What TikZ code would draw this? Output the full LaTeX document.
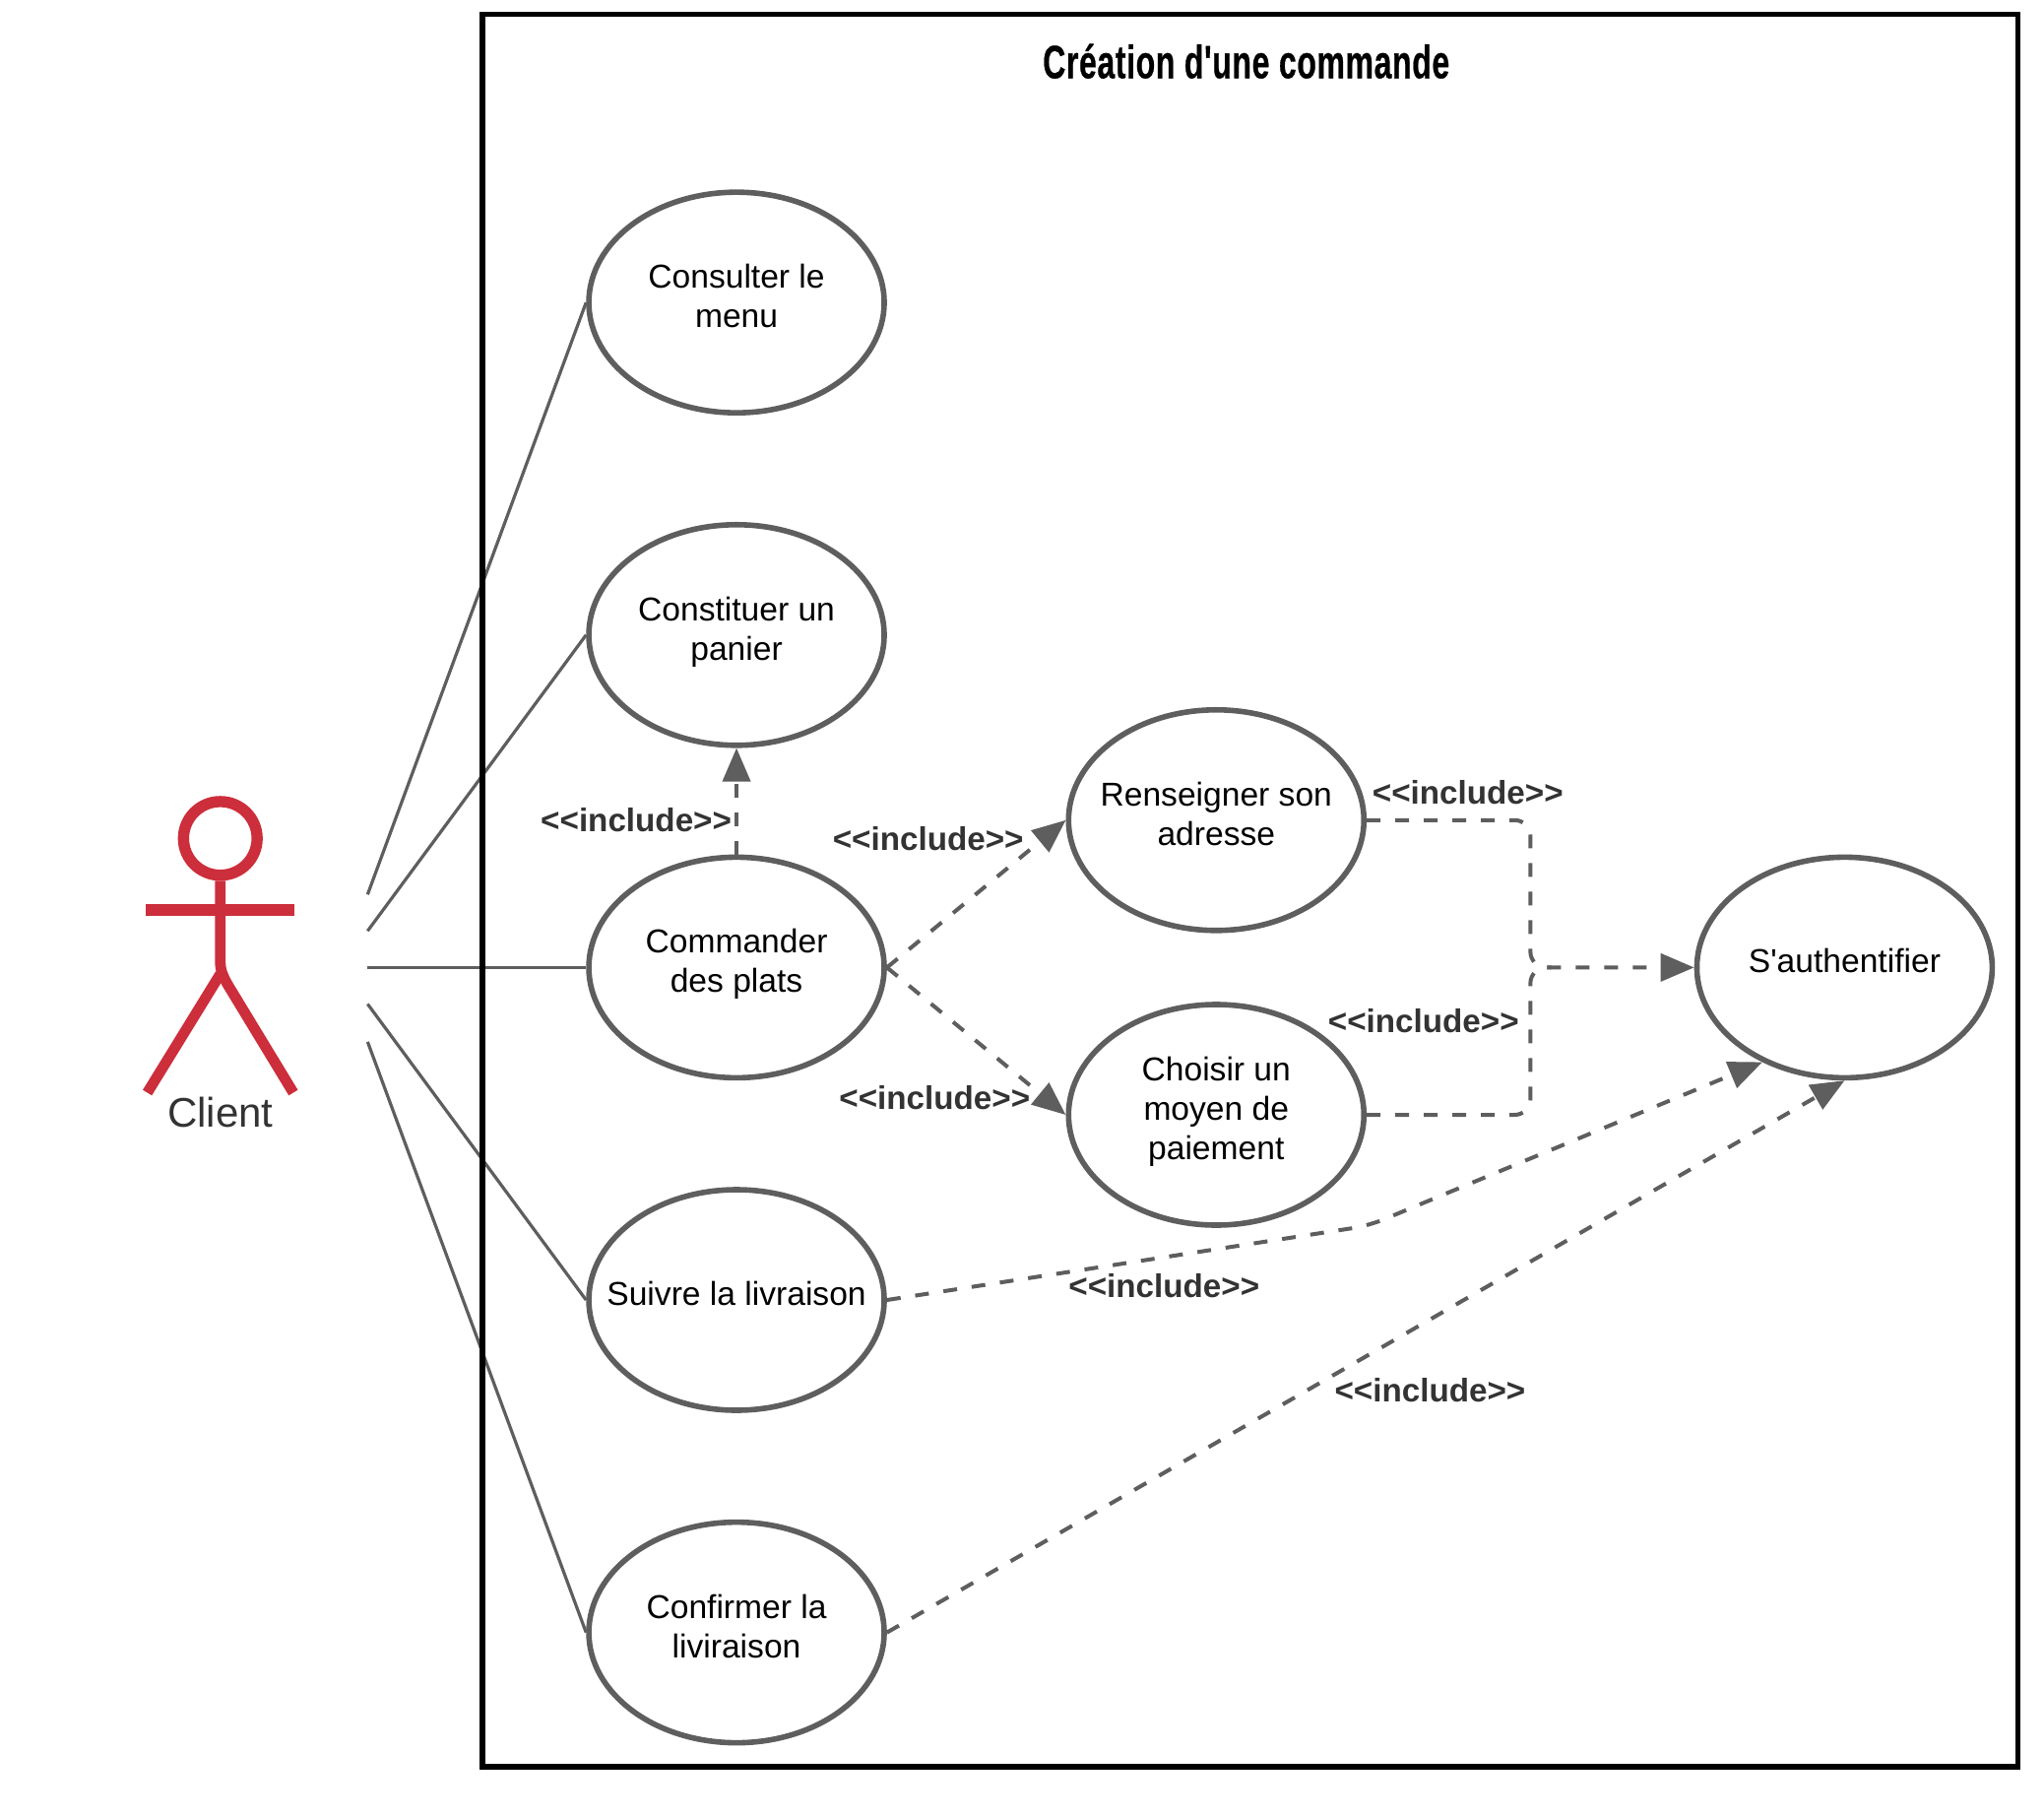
\documentclass[tikz,border=0pt]{standalone}
\usepackage{fontspec}
\usepackage{graphicx}
\usetikzlibrary{arrows.meta,shapes.geometric}
\newfontfamily\arialf{Liberation Sans}
\definecolor{linegray}{HTML}{5E5E5E}
\definecolor{txtgray}{HTML}{333333}
\definecolor{actorred}{HTML}{CC2E3B}
\newcommand{\uctext}[1]{\makebox[0pt][c]{\raisebox{0pt}[\height][\dimexpr\depth+2.6pt\relax]{\begin{tabular}{@{}c@{}}#1\end{tabular}}}}
\tikzset{
  usecase/.style={ellipse,draw=linegray,line width=2.8pt,fill=white,minimum width=150pt,minimum height=112pt,inner sep=0pt,font=\arialf\fontsize{16.8}{20}\selectfont,text=black},
  inclabel/.style={font=\arialf\bfseries\fontsize{16.6}{20}\selectfont,text=txtgray,inner sep=0pt},
  assoc/.style={draw=linegray,line width=1.6pt},
  inclplain/.style={draw=linegray,line width=2pt,dash pattern=on 7pt off 7.5pt,rounded corners=8pt},
  incl/.style={inclplain,-{Triangle[length=17pt,width=14pt]}},
  actorline/.style={draw=actorred,line width=5.4pt},
}
\begin{document}
\begin{tikzpicture}[x=0.66199pt,y=-0.66199pt]
\useasboundingbox (0,0) rectangle (1568,1392.8);
% use cases
\node[usecase] (menu) at (565,232) {\uctext{Consulter le\\menu}};
\node[usecase] (panier) at (565,487) {\uctext{Constituer un\\panier}};
\node[usecase] (cmd) at (565,742) {\uctext{Commander\\des plats}};
\node[usecase] (suivre) at (565,997) {\uctext{Suivre la livraison}};
\node[usecase] (conf) at (565,1252) {\uctext{Confirmer la\\liviraison}};
\node[usecase] (adr) at (933,629) {\uctext{Renseigner son\\adresse}};
\node[usecase] (pay) at (933,855) {\uctext{Choisir un\\moyen de\\paiement}};
\node[usecase] (auth) at (1415,742) {\uctext{S'authentifier}};
% actor
\node[circle,draw=actorred,line width=5.7pt,minimum size=37.4pt,inner sep=0pt] (head) at (169,643) {};
\draw[actorline] (head.south) -- (169,738) .. controls (169,745) and (172,750) .. (174,754) -- (225,838);
\draw[actorline] (169,747) -- (113,838);
\draw[actorred,line width=6.2pt] (112,698) -- (226,698);
\node[font=\arialf\fontsize{21}{25}\selectfont,text=txtgray,inner sep=0pt] (client) at (169,853) {Client};
% associations
\coordinate (a1) at (282,686);
\coordinate (a2) at (282,714);
\coordinate (a3) at (282,742);
\coordinate (a4) at (282,770);
\coordinate (a5) at (282,799);
\draw[assoc] (a1) -- (menu.west);
\draw[assoc] (a2) -- (panier.west);
\draw[assoc] (a3) -- (cmd.west);
\draw[assoc] (a4) -- (suivre.west);
\draw[assoc] (a5) -- (conf.west);
% includes
\draw[incl] (cmd.north) -- (panier.south);
\draw[incl] (cmd.east) -- (adr.west);
\draw[incl] (cmd.east) -- (pay.west);
\coordinate (jn) at (1174,742);
\coordinate (bend) at (1050,940);
\draw[incl] (adr.east) -| (jn) -- (auth.west);
\draw[inclplain] (pay.east) -| (jn) -- ++(16,0);
\draw[incl] (suivre.east) -- (bend) -- (auth.229);
\draw[incl] (conf.east) -- (auth.south);
% labels
\node[inclabel] (l1) at (488,629) {<<include>>};
\node[inclabel] (l2) at (712,643) {<<include>>};
\node[inclabel] (l3) at (717,842) {<<include>>};
\node[inclabel] (l4) at (1126,608) {<<include>>};
\node[inclabel] (l5) at (1092,783) {<<include>>};
\node[inclabel] (l6) at (893,986) {<<include>>};
\node[inclabel] (l7) at (1097,1066) {<<include>>};
% frame and title
\draw[black,line width=2.8pt] (370,11) rectangle (1548,1355);
\node[font=\arialf\bfseries\fontsize{23.7}{28}\selectfont,inner sep=0pt] (title) at (956,47) {\addfontfeatures{FakeBold=0.7,LetterSpace=2}\resizebox{206.5pt}{\height}{Création d'une commande}};
\end{tikzpicture}
\end{document}
